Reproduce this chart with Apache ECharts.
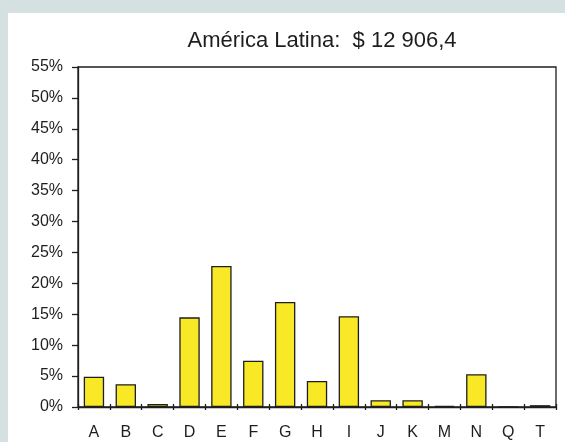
<!DOCTYPE html>
<html><head><meta charset="utf-8">
<script src="https://cdn.jsdelivr.net/npm/echarts@6/dist/echarts.min.js"></script>
<style>html,body{margin:0;padding:0;background:#d5e1e1;}#c{width:565px;height:442px;}</style>
</head><body><div id="c"></div>
<script>
var titleText = 'América Latina:  $ 12 906,4';
var categories = ['A','B','C','D','E','F','G','H','I','J','K','M','N','Q','T'];
var shares = [4.9, 3.7, 0.5, 14.5, 22.8, 7.5, 17.0, 4.2, 14.7, 1.1, 1.1, 0.2, 5.3, 0.05, 0.3];

var chart = echarts.init(document.getElementById('c'), null, {renderer:'canvas'});
var font = 'Liberation Sans, Arial, sans-serif';
var ink = '#1e1e1e';
chart.setOption({
  backgroundColor: '#d5e1e1',
  animation: false,
  graphic: [{type:'rect', z:-10, shape:{x:8, y:13, width:560, height:432}, style:{fill:'#ffffff'}}],
  title: {text: titleText, left: 317, top: 25, textAlign:'center',
    textStyle:{fontFamily:font, fontSize:22, fontWeight:'normal', color:ink}},
  grid: {left:78, right:9, top:67, bottom:35, show:true, borderColor:ink, borderWidth:1.3, backgroundColor:'transparent'},
  xAxis: [{
    type:'category', data: categories,
    axisLine:{lineStyle:{color:ink, width:1.3}},
    axisTick:{show:true, alignWithLabel:false, length:3, lineStyle:{color:ink, width:1.3}},
    axisLabel:{fontFamily:font, fontSize:16, color:ink, margin:18}
  },{
    type:'category', data: categories, position:'bottom',
    axisLine:{show:false},
    axisTick:{show:true, inside:true, length:3, lineStyle:{color:ink, width:1.3}},
    axisLabel:{show:false}
  }],
  yAxis: {
    type:'value', min:0, max:55, interval:5,
    axisLine:{show:true, lineStyle:{color:ink, width:1.3}},
    axisTick:{show:true, length:6, lineStyle:{color:ink, width:1.3}},
    splitLine:{show:false},
    axisLabel:{fontFamily:font, fontSize:16, color:ink, margin:15, formatter:'{value}%'}
  },
  series: [{
    type:'bar', data: shares, xAxisIndex:0, barWidth:'64%',
    itemStyle:{color:'#f8e825', borderColor:ink, borderWidth:1.3}
  }]
});
</script></body></html>
